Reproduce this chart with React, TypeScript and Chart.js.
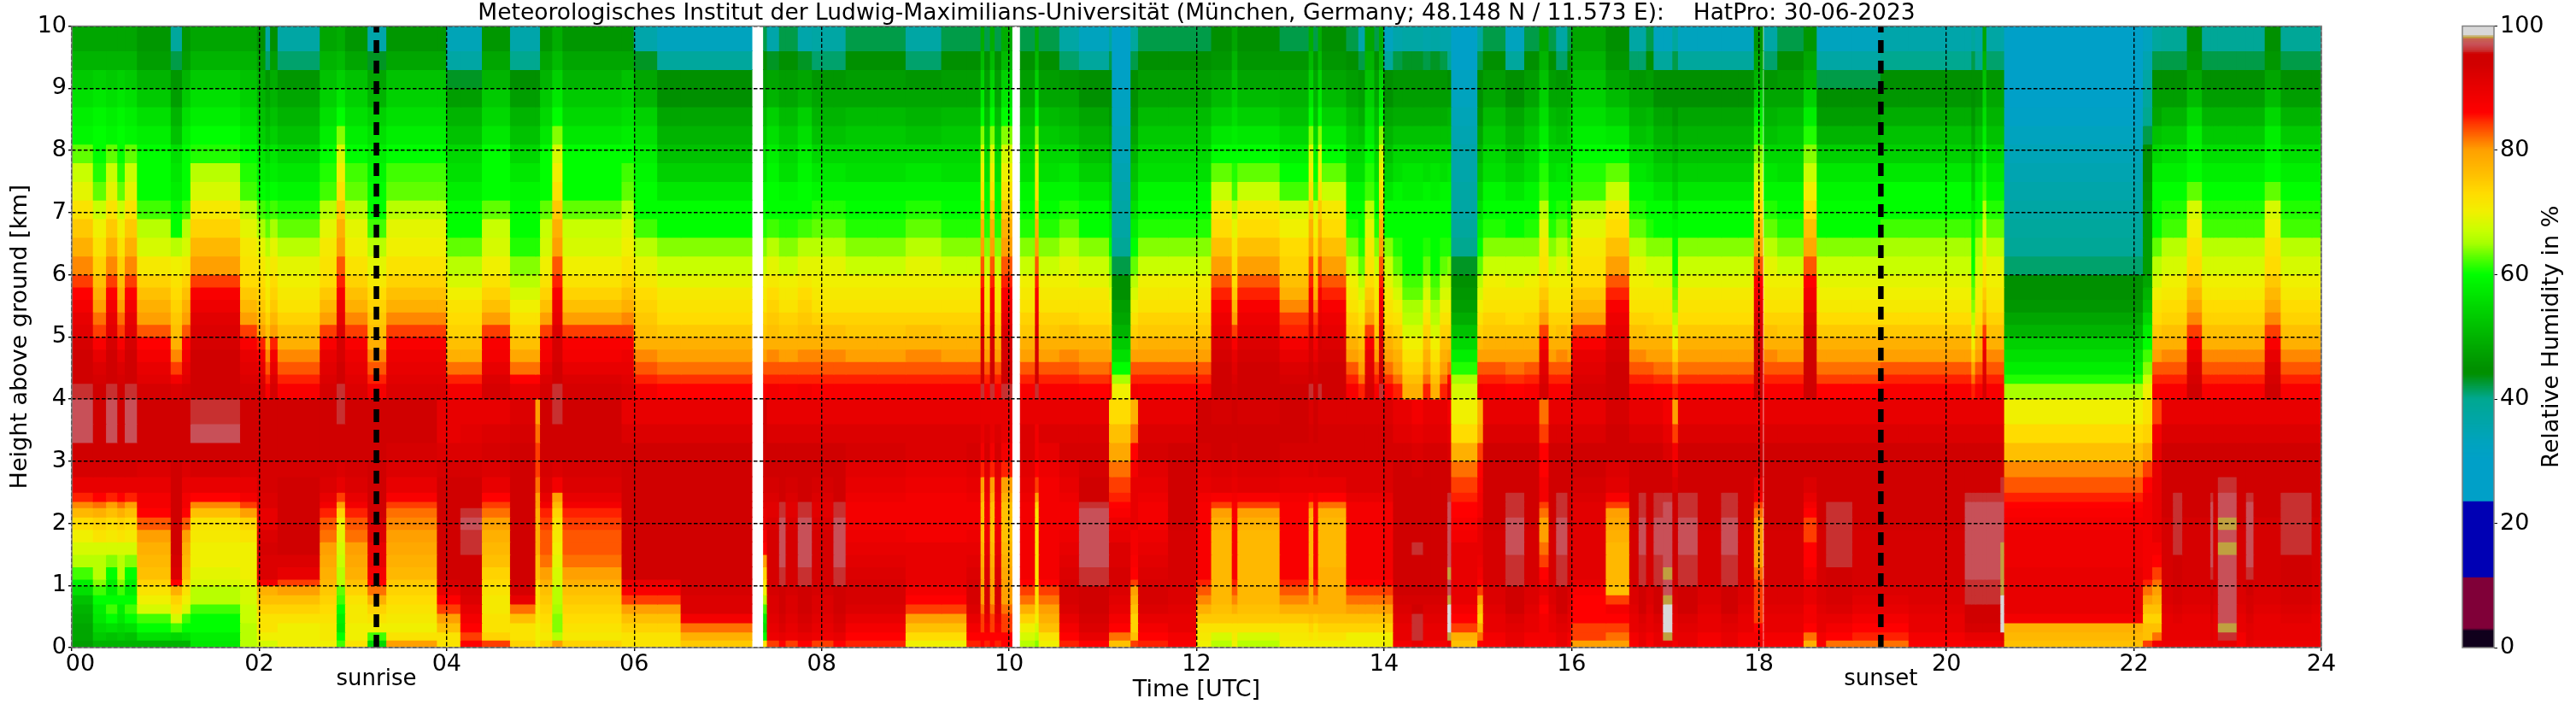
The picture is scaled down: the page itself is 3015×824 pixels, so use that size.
import React, { useEffect, useRef } from "react";
import { Chart, registerables } from "chart.js";
Chart.register(...registerables);

// height cell edges, km
const heightEdges = [10,9.6,9.3,9,8.7,8.4,8.1,7.8,7.5,7.2,6.9,6.6,6.3,6,5.8,5.6,5.4,5.2,5,4.8,4.6,4.4,4.25,4,3.6,3.3,3,2.75,2.5,2.35,2.25,2.1,1.9,1.7,1.5,1.3,1.1,1,0.85,0.7,0.55,0.4,0.25,0.12,0];

// RH profile families above 4 km (top to bottom)
const U_wet=[48,50,53,56,58,59,63,67,69,72,75,78,81,84,86,88,90,91,93,94,94,95,96];
const U_lim=[48,50,54,57,59,60,60,61,63,67,70,72,74,76,78,80,82,84,87,90,92,93,94];
const U_dry1=[46,47,50,53,56,58,60,60,60,62,66,68,71,74,76,78,80,83,86,88,90,91,93];
const U_tealA=[38,42,46,47,50,52,56,57,58,60,60,66,70,72,73,74,75,76,78,81,84,88,92];
const U_wetF=[48,50,53,56,58,60,61,66,68,71,74,77,80,84,87,89,91,92,93,94,94,95,95];
const U_mid=[48,50,52,54,56,58,60,61,62,66,69,71,72,73,75,77,80,84,87,90,91,92,93];
const U_hz=[44,47,49,50,52,54,57,58,60,62,65,69,71,73,74,75,77,80,85,88,90,92,93];
const U_tealB=[37,41,46,48,50,52,55,57,59,61,63,66,69,70,71,72,74,76,78,81,83,85,87];
const U_spk=[49,51,54,57,60,64,68,70,72,75,78,80,83,85,87,89,90,92,93,93,94,94,96];
const U_tealC=[36,43,48,50,54,56,58,59,60,60,62,66,69,71,73,74,75,76,78,81,83,85,88];
const U_n=[46,48,52,54,56,58,60,62,63,66,69,70,72,74,76,78,81,84,87,89,90,91,92];
const U_dryO=[34,37,43,47,50,52,55,56,58,60,60,63,66,68,70,72,73,74,76,78,82,85,88];
const U_p=[46,48,50,53,55,57,60,60,60,63,67,68,70,72,74,76,80,84,87,88,90,92,93];
const U_q=[36,40,44,47,50,52,55,57,59,60,60,61,64,66,68,70,72,74,76,79,82,86,90];
const U_x=[33,38,44,45,48,50,52,54,57,60,60,64,67,69,71,72,73,75,78,80,82,84.5,86];
const U_r=[42,45,47,48,51,53,55,56,59,60,61,64,67,70,71,72,74,75,78,80,83,85,87];
const U_w1=[44,46,48,51,54,57,60,63,67,71,73,76,80,83,85,87,89,90,92,93,94,94,95];
const U_w2=[42,46,48,50,52,55,58,60,62,68,70,73,74,76,78,81,84,85,88,90,92,93,94];
const U_s=[36,42,46,47,49,52,55,56,59,60,60,61,63,66,68,70,72,74,76,78,80,82,85];
const U_green=[37,43,46,47,49,52,55,57,58,60,60,60,60,62,63,65,66,68,70,72,74,76,78];
const U_core1=[30,30,31,32,33,34,34,35,36,37,37,39,42,45,45,47,48,50,53,56,60,65,70];
const U_core2=[29,30,32,33,34,35,36,36,37,37,38,40,43,45,46,47,49,52,55,58,61,65,68];
const U_edge=[38,42,44,45,46,48,50,52,54,56,58,60,63,66,68,70,72,74,77,80,83,85,88];
const U_clear=[29,29,29,30,31,33,34,35,36,37,38,39,41,44,45,46,48,50,54,56,58,61,65];
const U_e1=[33,35,37,38,40,42,44,45,46,47,47,47,47,48,50,52,55,58,60,62,64,67,70];
const U_e2=[38,42,45,47,48,52,55,58,60,60,60,63,66,68,70,72,73,75,78,80,83,85,87];
const U_h1=[33,37,42,45,47,50,54,57,59,60,60,64,67,69,70,71,73,75,78,80,82,84,86];
const U_h2=[36,40,44,46,49,52,54,57,60,60,62,65,67,69,70,71,73,75,78,80,83,85,87];
const U_line=[38,42,45,45,46,48,50,52,54,57,59,60,60,62,63,64,66,68,70,74,79,82,85];
const U_tails=[39,42,45,47,50,53,56,58,60,61,62,66,68,70,71,73,74,76,78,81,83,85,87];
const U_wet2=[44,46,48,51,55,58,59,60,63,68,70,72,73,75,77,79,81,84,87,90,92,93,94];
const U_spk3=[46,48,50,54,58,61,64,67,70,73,76,79,83,86,88,90,92,93,94,94,95,95,95];

// RH profile families below 4 km (top to bottom)
const L_a=[97,97,95,93,90,85,81,77,73,70,68,66,62,58,56,52,50,49,48,48,47];
const L_b=[94,95,95,93,90,86,82,78,74,72,68,66,66,64,62,60,58,57,55,53,50];
const L_c=[97,97,95,93,90,85,80,76,73,71,68,64,60,58,58,60,62,60,56,52,50];
const L_e=[94,95,94,92,90,88,88,86,83,80,78,77,76,74,72,70,68,62,60,56,50];
const L_f=[94,94,94,95,95,94,94,94,94,94,94,93,92,86,78,74,72,68,62,55,50];
const L_g=[96,97,95,93,90,86,81,76,72,71,70,70,69,68,66,66,62,60,60,58,57];
const L_h=[94,95,94,92,90,88,84,80,74,72,70,70,70,69,68,68,67,67,66,66,66];
const L_i=[94,94,94,93,93,92,92,90,90,92,93,92,92,88,78,76,74,72,72,70,68];
const L_j=[94,94,94,93,94,94,94,94,94,94,94,92,90,84,80,76,74,72,70,70,70];
const L_k=[94,94,94,93,92,90,88,85,83,82,80,79,78,77,75,74,73,72,71,71,70];
const L_l=[96,95,94,92,90,84,80,74,70,69,68,67,66,66,63,62,60,58,57,60,62];
const L_m=[94,94,94,93,92,90,88,85,83,82,80,79,78,76,74,72,71,71,70,70,72];
const L_n=[94,94,94,94,94,94,94,94,93,92,90,90,88,86,82,78,74,72,70,62,55];
const L_o=[94,94,93,92,90,87,84,82,81,80,79,78,77,75,74,73,72,71,70,72,80];
const L_p=[90,91,92,93,94,95,95,96,97,96,96,95,94,94,93,92,90,88,86,84,86];
const L_p0=[90,90,92,93,94,94,94,94,94,94,94,94,94,93,90,86,84,80,76,72,72];
const L_q=[90,92,93,92,90,86,84,82,80,78,77,76,74,73,72,71,71,72,72,74,84];
const L_r=[92,93,94,94,94,94,94,94,94,94,94,94,94,94,93,90,82,76,72,72,74];
const L_s=[80,82,84,84,82,80,80,78,78,78,78,76,76,74,72,72,71,71,70,70,70];
const L_t=[96,95,94,92,88,80,77,74,72,71,70,69,68,68,66,66,65,64,64,66,80];
const L_u=[94,94,94,93,92,90,88,85,84,83,83,82,80,78,76,75,74,73,72,71,74];
const L_v1=[90,92,94,94,94,94,94,94,94,94,94,94,94,90,87,84,80,76,74,72,72];
const L_v2=[90,92,94,94,94,94,94,94,94,94,94,94,94,94,93,92,92,88,82,78,75];
const L_g7=[94,94,94,94,93,92,91,90,90,88,86,80,74,72,70,66,62,58,56,60,72];
const L_y1=[90,92,94,94,93,92,91,91,92,93,93,93,93,93,93,92,92,91,90,89,84];
const L_y2=[90,92,94,94,94,95,96,96,97,97,97,97,96,96,95,94,94,93,92,90,86];
const L_z=[90,92,93,91,90,89,88,88,88,89,90,91,92,93,93,93,92,90,88,86,85];
const L_z1=[90,92,92,90,89,88,88,88,88,88,90,90,90,90,88,86,84,80,76,73,70];
const L_z2=[90,90,88,85,80,78,76,76,76,76,77,78,79,80,80,80,82,84,84,86,86];
const L_aa=[90,92,92,91,90,89,88,88,88,88,88,88,88,86,84,82,78,74,70,68,66];
const L_bb=[90,88,88,86,84,80,74,72,72,72,72,72,72,72,72,72,72,70,68,66,64];
const L_cc=[90,92,90,89,88,88,88,88,88,88,88,88,88,86,84,82,80,78,76,72,70];
const L_gry=[90,92,93,93,94,95,96,97,97,97,97,97,96,96,95,95,94,93,92,90,86];
const L_c1=[73,76,79,82,84,85,86,87,89,90,92,92,93,93,92,91,90,88,86,82,76];
const L_c1b=[78,82,86,88,90,90,90,90,90,88,88,87,86,84,80,78,76,74,74,76,84];
const L_w1=[93,94,94,92,91,87,84,80,78,77,77,77,77,77,77,77,76,75,72,68,66];
const L_w2=[94,94,93,91,90,88,87,87,87,87,87,87,87,85,83,81,78,75,72,71,70];
const L_w3=[92,93,93,92,90,86,82,78,77,77,77,77,78,78,78,78,78,76,74,72,70];
const L_w4=[92,93,93,92,92,90,88,88,88,88,88,88,88,86,84,82,80,76,74,70,70];
const L_dk=[90,91,93,94,94,94,94,94,94,94,94,94,94,94,94,93,92,91,90,90,88];
const L_gl=[88,90,92,93,94,94,94,94,94,95,96,95,94,94,94,93,95,96,96,96,90];
const L_wht=[88,90,92,94,95,96,97,97,97,97,97,97,98,97,97,98,99,99,99,98,90];
const L_c2=[70,73,78,82,84,85,86,86,87,88,90,90,90,90,90,90,88,86,84,78,76];
const L_c2b=[78,80,84,86,87,88,88,88,90,90,90,89,88,86,84,80,76,74,78,82,86];
const L_ora=[82,84,86,86,88,88,84,82,80,80,82,84,86,88,90,88,86,88,88,88,88];
const L_bot1=[90,92,94,94,93,92,91,91,91,91,91,91,91,90,87,86,86,86,84,84,80];
const L_wet16=[93,94,94,92,91,87,84,80,79,78,77,77,77,77,76,84,88,86,84,82,80];
const L_g2=[90,92,94,94,95,96,96,96,97,97,97,96,96,96,95,94,94,92,91,90,90];
const L_deep=[90,92,94,94,94,94,94,94,94,93,93,93,93,93,92,92,91,90,90,88,87];
const L_lin=[80,84,88,90,92,94,94,94,94,94,94,94,94,94,93,93,92,91,90,90,88];
const L_sun=[90,92,94,94,94,94,94,94,94,93,93,93,93,93,92,91,90,88,86,85,82];
const L_gry3=[90,92,94,94,94,95,96,96,96,96,96,96,95,94,93,93,92,90,88,86,82];
const L_w20=[90,92,94,94,95,96,97,97,97,97,97,97,97,96,96,96,95,94,93,90,88];
const L_w20g=[90,92,94,95,96,96,97,97,97,97,98,98,98,98,98,99,99,99,99,92,90];
const L_clear=[70,73,76,81,83,85,86,87,88,89,89,89,90,90,90,90,90,88,78,77,76];
const L_e22=[72,74,78,84,86,88,88,88,88,88,88,88,88,85,82,80,76,74,76,76,84];
const L_e22b=[84,88,90,90,90,90,90,90,90,90,88,86,84,82,80,78,76,74,76,82,88];
const L_tl=[90,92,94,94,94,94,94,94,93,93,93,93,93,93,92,92,91,90,90,90,89];
const L_tg1=[90,92,94,94,95,96,96,96,96,96,96,95,94,94,93,93,92,91,90,90,89];
const L_tg2=[90,92,94,95,96,97,97,97,98,97,98,97,97,97,97,97,97,97,98,96,90];
const L_tg3=[90,92,94,94,95,96,97,97,97,97,97,97,96,95,94,93,93,92,91,91,90];
const L_sp18=[90,92,94,94,90,88,84,82,80,80,80,80,82,84,84,84,84,84,86,88,88];
const L_sp185=[90,92,94,94,92,90,88,86,84,84,86,86,88,90,90,90,88,88,86,82,78];

// time segments: [end hour, profile above 4 km, profile below 4 km]; null = no data
const segments: any[] = [
[0.23,U_wet,L_a],[0.37,U_lim,L_b],[0.49,U_wet,L_c],[0.57,U_lim,L_b],[0.70,U_wet,L_c],[1.06,U_dry1,L_e],[1.18,U_tealA,L_f],[1.27,U_dry1,L_e],[1.80,U_wetF,L_g],[1.98,U_mid,L_h],
[2.07,U_hz,L_i],[2.12,U_tealB,L_i],[2.20,U_hz,L_i],[2.65,U_tealB,L_j],[2.83,U_mid,L_k],[2.92,U_spk,L_l],[3.16,U_n,L_m],[3.36,U_tealC,L_n],[3.90,U_n,L_o],[4.00,U_n,L_p0],
[4.15,U_dryO,L_p0],[4.38,U_dryO,L_p],[4.68,U_p,L_q],[4.95,U_q,L_r],[5.00,U_q,L_s],[5.13,U_p,L_u],[5.24,U_spk,L_t],[5.87,U_p,L_u],[6.00,U_n,L_v1],[6.25,U_tealC,L_v1],[6.50,U_x,L_v1],[7.256,U_x,L_v2],
[7.38,null,null],[7.42,U_r,L_g7],[7.55,U_tealC,L_y1],[7.62,U_r,L_y2],[7.75,U_r,L_y1],[7.90,U_tealC,L_y2],[8.13,U_tealB,L_y1],[8.26,U_tealB,L_y2],[8.60,U_r,L_z],[8.90,U_r,L_z],[9.28,U_tealB,L_z1],[9.55,U_r,L_z1],[9.70,U_r,L_z],
[9.74,U_spk,L_z2],[9.80,U_r,L_z],[9.85,U_spk,L_z2],[9.92,U_r,L_z],[10.03,U_spk,L_z2],[10.12,null,null],[10.28,U_r,L_aa],[10.32,U_spk,L_bb],[10.54,U_r,L_cc],[10.75,U_tealB,L_z],[11.07,U_x,L_gry],
[11.10,U_edge,L_c1],[11.30,U_core1,L_c1],[11.38,U_edge,L_c1b],[11.70,U_r,L_z],[12.00,U_r,L_deep],[12.16,U_r,L_w2],[12.38,U_w1,L_w1],[12.44,U_mid,L_w2],[12.89,U_w1,L_w1],[13.20,U_w2,L_w2],[13.25,U_spk,L_w3],[13.30,U_w2,L_w2],[13.34,U_spk,L_w3],[13.60,U_w1,L_w3],
[13.73,U_r,L_w4],[13.80,U_s,L_w4],[13.90,U_mid,L_w4],[13.95,U_r,L_w4],[14.00,U_spk,L_w4],[14.10,U_x,L_w4],[14.20,U_s,L_dk],[14.30,U_green,L_dk],[14.42,U_green,L_gl],[14.50,U_s,L_dk],[14.60,U_green,L_dk],[14.68,U_s,L_dk],[14.72,U_q,L_wht],
[15.00,U_core2,L_c2],[15.06,U_edge,L_c2b],[15.30,U_r,L_deep],[15.50,U_x,L_g2],[15.66,U_r,L_deep],[15.76,U_mid,L_ora],[15.84,U_r,L_deep],[15.96,U_tealB,L_g2],[16.00,U_r,L_deep],[16.37,U_mid,L_bot1],[16.62,U_w1,L_wet16],
[16.72,U_tealB,L_deep],[16.80,U_tealB,L_g2],[16.88,U_r,L_deep],[16.98,U_x,L_g2],[17.08,U_x,L_wht],[17.14,U_line,L_lin],[17.35,U_x,L_g2],[17.60,U_x,L_deep],[17.78,U_x,L_g2],[17.95,U_x,L_deep],[18.04,U_spk3,L_sp18],
[18.055,null,null],[18.20,U_tealB,L_deep],[18.48,U_r,L_deep],[18.62,U_spk3,L_sp185],[18.72,U_h1,L_deep],[19.00,U_h1,L_gry3],[19.30,U_h1,L_sun],[19.60,U_h2,L_sun],[20.20,U_h2,L_deep],[20.27,U_h2,L_w20],[20.31,U_line,L_w20],[20.39,U_h2,L_w20],[20.43,U_mid,L_w20],[20.58,U_tealB,L_w20],[20.62,U_tealB,L_w20g],
[22.10,U_clear,L_clear],[22.20,U_e1,L_e22],[22.30,U_e2,L_e22b],[22.42,U_tails,L_tl],[22.52,U_tails,L_tg1],[22.57,U_tails,L_tl],[22.73,U_wet2,L_tl],[22.82,U_tails,L_tl],[22.85,U_tails,L_tg3],[22.90,U_tails,L_tl],[23.10,U_tails,L_tg2],[23.20,U_tails,L_deep],[23.28,U_tails,L_tg3],[23.40,U_tails,L_tl],[23.57,U_wet2,L_tl],[23.90,U_tails,L_tg1],[24.00,U_tails,L_tl],
];

const sunriseHour = 3.25;
const sunsetHour = 19.3;
const titleText = "Meteorologisches Institut der Ludwig-Maximilians-Universität (München, Germany; 48.148 N / 11.573 E):    HatPro: 30-06-2023";

// colour scale
const cmapValues = [0,2.7,3,11.3,11.31,23.4,23.41,30,33,40,44,45,50,55,60,63,65,67,70,73,76,80,82,84.5,86,90,94,95.5,96,97,97.9,97.95,98.35,98.4,100];
const cmapColors = ["#10001c","#10001c","#800038","#800038","#0000b4","#0000b4","#00a0c8","#00a0c8","#00a3be","#00a890","#009000","#009000","#00b400","#00d800","#00ff00","#60ff00","#a8ff00","#c8ff00","#f0f000","#ffdc00","#ffc000","#ffa000","#ff7000","#ff3000","#ff0000","#e80000","#d00000","#d00000","#c83030","#c85058","#c86450","#c0a040","#c0a040","#d8d8d8","#d8d8d8"];
const colorbarTicks = [0,20,40,60,80,100];

const FONT = "'DejaVu Sans'";
const hex = (c: string) => [1, 3, 5].map((i) => parseInt(c.slice(i, i + 2), 16));
function rhColor(v: number) {
  let i = 0;
  while (i < cmapValues.length - 2 && v > cmapValues[i + 1]) i++;
  const f = Math.min(1, Math.max(0, (v - cmapValues[i]) / (cmapValues[i + 1] - cmapValues[i])));
  const a = hex(cmapColors[i]);
  const b = hex(cmapColors[i + 1]);
  const m = a.map((x, k) => Math.round(x + (b[k] - x) * f));
  return `rgb(${m[0]},${m[1]},${m[2]})`;
}

function buildCells() {
  const sets: any[] = [];
  for (let lev = 0; lev < heightEdges.length - 1; lev++) {
    const data: any[] = [];
    const colors: string[] = [];
    let start = 0;
    for (const [end, up, low] of segments) {
      if (up && low) {
        const rh = lev < up.length ? up[lev] : low[lev - up.length];
        data.push({ x: (start + end) / 2, y: [heightEdges[lev + 1], heightEdges[lev]], t0: start, t1: end });
        colors.push(rhColor(rh));
      }
      start = end;
    }
    sets.push({ type: "bar", order: 2, grouped: false, inflateAmount: 0.5, borderWidth: 0, barPercentage: 1, categoryPercentage: 1, data, backgroundColor: colors });
  }
  return sets;
}

const cellWidthPlugin = {
  id: "cellWidth",
  afterDatasetsUpdate(chart: any) {
    const xs = chart.scales.x;
    chart.data.datasets.forEach((ds: any, i: number) => {
      if (ds.type !== "bar") return;
      chart.getDatasetMeta(i).data.forEach((el: any, j: number) => {
        const d = ds.data[j];
        const a = xs.getPixelForValue(d.t0);
        const b = xs.getPixelForValue(d.t1);
        el.x = (a + b) / 2;
        el.width = b - a;
      });
    });
  },
  afterLayout(chart: any) {
    const items = chart.scales.x.getLabelItems();
    if (items[0]) items[0].options.translation[0] += 10;
  },
  afterDraw(chart: any) {
    const { ctx, chartArea: a, scales } = chart;
    ctx.save();
    ctx.strokeStyle = "#808080";
    ctx.lineWidth = 1.5;
    ctx.strokeRect(a.left, a.top, a.right - a.left, a.bottom - a.top);
    ctx.fillStyle = "#000";
    ctx.font = `26px ${FONT}`;
    ctx.textAlign = "center";
    ctx.textBaseline = "middle";
    ctx.fillText("sunrise", scales.x.getPixelForValue(sunriseHour), 795);
    ctx.fillText("sunset", scales.x.getPixelForValue(sunsetHour), 795);
    ctx.restore();
  },
};

const colorbarPlugin = {
  id: "colorbarFrame",
  afterDraw(chart: any) {
    const { ctx, chartArea: a } = chart;
    ctx.save();
    ctx.strokeStyle = "#808080";
    ctx.lineWidth = 1.5;
    ctx.strokeRect(a.left, a.top, a.right - a.left, a.bottom - a.top);
    ctx.fillStyle = "#000";
    ctx.font = `27px ${FONT}`;
    ctx.textAlign = "center";
    ctx.textBaseline = "middle";
    ctx.translate(187, (a.top + a.bottom) / 2 - 0);
    ctx.rotate(-Math.PI / 2);
    ctx.fillText("Relative Humidity in %", 0, 0);
    ctx.restore();
  },
};

export default function App() {
  const mainRef = useRef<HTMLCanvasElement>(null);
  const barRef = useRef<HTMLCanvasElement>(null);
  useEffect(() => {
    const lines = [sunriseHour, sunsetHour].map((h) => ({
      type: "line", order: 1, borderColor: "#000", borderWidth: 6.5, borderDash: [15, 9], pointRadius: 0, fill: false,
      data: [{ x: h, y: 0 }, { x: h, y: 10 }],
    }));
    const main = new Chart(mainRef.current!, {
      type: "bar",
      data: { datasets: [...buildCells(), ...lines] as any },
      plugins: [cellWidthPlugin],
      options: {
        responsive: false, animation: false, devicePixelRatio: 1, events: [],
        layout: { padding: { left: 0, right: 298, top: 0, bottom: 0 } },
        plugins: {
          legend: { display: false }, tooltip: { enabled: false },
          title: { display: true, text: titleText, color: "#000", fullSize: false, font: { family: FONT, size: 26.5, weight: "normal", lineHeight: "28px" }, padding: { top: 2.5, bottom: 0 } },
        },
        scales: {
          x: {
            type: "linear", min: 0, max: 24, offset: false,
            afterFit: (s: any) => { s.height = 66; },
            grid: { offset: false, z: 1, color: "#000", lineWidth: 1.4, tickLength: 4, tickColor: "#000" },
            border: { display: false, dash: [4.5, 2.5] },
            ticks: { stepSize: 2, autoSkip: false, maxRotation: 0, color: "#000", padding: 0, font: { family: FONT, size: 27 }, callback: (v: any) => String(v).padStart(2, "0") },
            title: { display: true, text: "Time [UTC]", color: "#000", font: { family: FONT, size: 27 }, padding: { top: 0, bottom: 0 } },
          },
          y: {
            type: "linear", min: 0, max: 10,
            afterFit: (s: any) => { s.width = 84; },
            grid: { z: 1, color: "#000", lineWidth: 1.4, tickLength: 4, tickColor: "#000" },
            border: { display: false, dash: [4.5, 2.5] },
            ticks: { stepSize: 1, color: "#000", padding: 2, font: { family: FONT, size: 27 } },
            title: { display: true, text: "Height above ground [km]", color: "#000", font: { family: FONT, size: 27 }, padding: { top: 8, bottom: 0 } },
          },
        },
      } as any,
    });
    const barSets: any[] = [];
    for (let v = 0; v < 100; v += 0.25) {
      barSets.push({ grouped: false, inflateAmount: 0.4, borderWidth: 0, barPercentage: 1, categoryPercentage: 1, data: [[v, v + 0.25]], backgroundColor: rhColor(v + 0.125) });
    }
    const bar = new Chart(barRef.current!, {
      type: "bar",
      data: { labels: [""], datasets: barSets },
      plugins: [colorbarPlugin],
      options: {
        responsive: false, animation: false, devicePixelRatio: 1, events: [],
        layout: { padding: { left: 82, right: 0, top: 30.5, bottom: 66 } },
        plugins: { legend: { display: false }, tooltip: { enabled: false } },
        scales: {
          x: { display: false },
          y: {
            type: "linear", position: "right", min: 0, max: 100,
            afterFit: (s: any) => { s.width = 96; },
            grid: { display: true, drawOnChartArea: false, tickLength: 4, tickColor: "#000" },
            border: { display: false },
            ticks: { color: "#000", padding: 3, font: { family: FONT, size: 27 }, callback: (v: any) => (colorbarTicks.includes(v) ? String(v) : ""), stepSize: 20 },
          },
        },
      } as any,
    });
    return () => { main.destroy(); bar.destroy(); };
  }, []);
  return (
    <div style={{ position: "absolute", left: 0, top: 0, width: 3015, height: 824, background: "#fff", overflow: "hidden" }}>
      <canvas ref={mainRef} width={3015} height={824} style={{ position: "absolute", left: 0, top: 0 }} />
      <canvas ref={barRef} width={215} height={824} style={{ position: "absolute", left: 2800, top: 0 }} />
    </div>
  );
}
